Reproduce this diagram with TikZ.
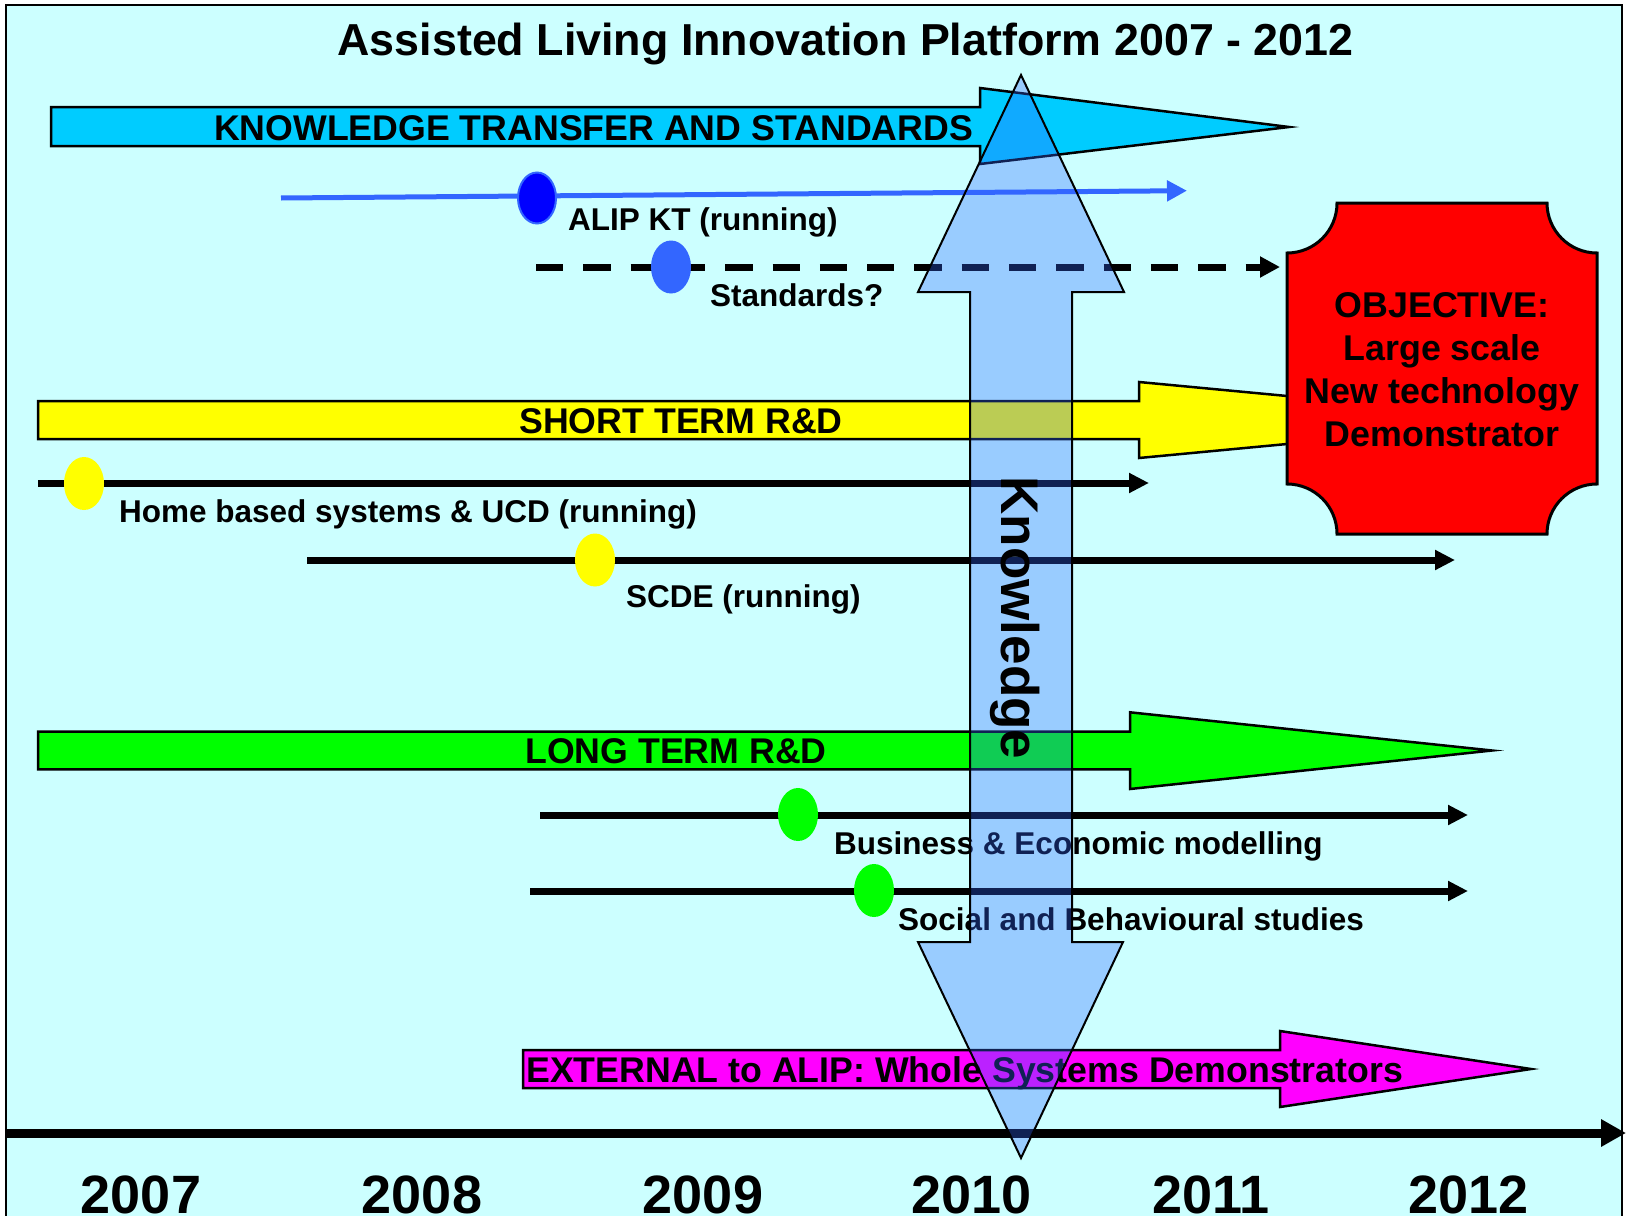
\documentclass[tikz,border=0pt]{standalone}
\usepackage{fontspec}
\setmainfont{Liberation Sans}
\usetikzlibrary{arrows.meta,shapes.geometric}
\definecolor{bgc}{HTML}{CCFFFF}
\definecolor{ktc}{HTML}{00CCFF}
\definecolor{yel}{HTML}{FFFF00}
\definecolor{grn}{HTML}{00FF00}
\definecolor{mag}{HTML}{FF00FF}
\definecolor{redc}{HTML}{FF0000}
\definecolor{blu}{HTML}{3366FF}
\definecolor{dblu}{HTML}{0000FF}
\tikzset{
  barshape/.style={draw=black, line width=2.5pt, line join=miter},
  barlabel/.style={font=\bfseries\fontsize{35.7}{40}\selectfont, inner sep=0pt},
  annot/.style={font=\bfseries\fontsize{31.5}{36}\selectfont, inner sep=0pt, anchor=base west},
  yearlabel/.style={font=\bfseries\fontsize{54}{60}\selectfont, inner sep=0pt, anchor=base},
  tline/.style={line width=7pt, -{Triangle[length=20pt,width=19pt]}},
  dot/.style={ellipse, minimum width=40pt, minimum height=53pt, inner sep=0pt},
}
\begin{document}
\begin{tikzpicture}[x=1pt,y=-1pt]
\useasboundingbox (0,0) rectangle (1629,1215);
\clip (0,0) rectangle (1629,1215);
\fill[white] (0,0) rectangle (1629,1215);
\filldraw[fill=bgc, draw=black, line width=2pt] (6,5) rectangle (1622,1240);

% title
\node[font=\bfseries\fontsize{44.8}{50}\selectfont, inner sep=0pt, anchor=base] (title) at (845.5,56) {Assisted Living Innovation Platform 2007 - 2012};

% knowledge transfer arrow
\filldraw[barshape, fill=ktc] (51,107) -- (980,107) -- (980,88) -- (1289,127) -- (980,164) -- (980,146) -- (51,146) -- cycle;
\node[barlabel, anchor=base] (kt) at (593.5,140) {KNOWLEDGE TRANSFER AND STANDARDS};

% ALIP KT
\coordinate (alips) at (281,198);
\coordinate (alipe) at (1187,190.7);
\draw[line width=5pt, blu, -{Triangle[length=20pt,width=20pt]}] (alips) -- (alipe);
\node[dot, fill=dblu, draw=blu, line width=2pt, minimum width=38pt, minimum height=51pt] (alipdot) at (537,198) {};
\node[annot] (aliplab) at (568,230.7) {ALIP KT (running)};

% Standards
\coordinate (stds) at (536,267);
\coordinate (stde) at (1280,267);
\draw[line width=7pt, dash pattern=on 27.3pt off 20pt, -{Triangle[length=20pt,width=20pt]}] (stds) -- (stde);
\node[dot, fill=blu] (stddot) at (671,267) {};
\node[annot] (stdlab) at (710,306) {Standards?};

% short term arrow
\filldraw[barshape, fill=yel] (38,401) -- (1139,401) -- (1139,382) -- (1541,420) -- (1139,458) -- (1139,439) -- (38,439) -- cycle;
\node[barlabel, anchor=base] (st) at (681,433) {SHORT TERM R\&D};

% objective box
\filldraw[fill=redc, draw=black, line width=3pt]
  (1337,203) -- (1547,203) .. controls (1547,230.6) and (1569.4,253) .. (1597,253)
  -- (1597,484) .. controls (1569.4,484) and (1547,506.4) .. (1547,534)
  -- (1337,534) .. controls (1337,506.4) and (1314.6,484) .. (1287,484)
  -- (1287,253) .. controls (1314.6,253) and (1337,230.6) .. (1337,203) -- cycle;
\node[font=\bfseries\fontsize{35.8}{43}\selectfont, inner sep=0pt, align=center] (obj) at (1442,370) {OBJECTIVE:\\Large scale\\New technology\\Demonstrator};

% home based
\coordinate (homes) at (38,483);
\coordinate (homee) at (1149,483);
\draw[tline] (homes) -- (homee);
\node[dot, fill=yel] (homedot) at (84,483.5) {};
\node[annot] (homelab) at (119,522) {Home based systems \& UCD (running)};

% SCDE
\coordinate (scdes) at (307,560);
\coordinate (scdee) at (1455,560);
\draw[tline] (scdes) -- (scdee);
\node[dot, fill=yel] (scdedot) at (595,560) {};
\node[annot] (scdelab) at (626,607) {SCDE (running)};

% long term arrow
\filldraw[barshape, fill=grn] (38,731.7) -- (1130,731.7) -- (1130,712.3) -- (1492,750.5) -- (1130,789) -- (1130,769.3) -- (38,769.3) -- cycle;
\node[barlabel, anchor=base] (lt) at (676,763) {LONG TERM R\&D};

% business
\coordinate (buss) at (540,815);
\coordinate (buse) at (1468,815);
\draw[tline] (buss) -- (buse);
\node[dot, fill=grn] (busdot) at (798,814.5) {};
\node[annot] (buslab) at (834,854) {Business \& Economic modelling};

% social
\coordinate (socs) at (530,891);
\coordinate (soce) at (1468,891);
\draw[tline] (socs) -- (soce);
\node[dot, fill=grn] (socdot) at (874,890.5) {};
\node[annot] (soclab) at (898,930) {Social and Behavioural studies};

% external arrow
\filldraw[barshape, fill=mag] (523,1050) -- (1280,1050) -- (1280,1031) -- (1531,1069) -- (1280,1107) -- (1280,1088) -- (523,1088) -- cycle;
\node[barlabel, anchor=base west] (ext) at (526,1082) {EXTERNAL to ALIP: Whole Systems Demonstrators};

% time axis
\coordinate (ax0) at (6,1133);
\coordinate (ax1) at (1626,1133);
\draw[line width=9pt, -{Triangle[length=25pt,width=26pt]}] (ax0) -- (ax1);
\node[yearlabel] (y07) at (141,1213) {2007};
\node[yearlabel] (y08) at (422,1213) {2008};
\node[yearlabel] (y09) at (703,1213) {2009};
\node[yearlabel] (y10) at (971.5,1213) {2010};
\node[yearlabel] (y11) at (1211,1213) {2011};
\node[yearlabel] (y12) at (1468.5,1213) {2012};

% knowledge double arrow
\filldraw[draw=black, line width=2pt, fill=blu, fill opacity=0.33, line join=miter]
  (1021,75) -- (1124,292) -- (1072,292) -- (1072,942) -- (1123,942) -- (1021,1158)
  -- (918,942) -- (970,942) -- (970,292) -- (918,292) -- cycle;
\node[font=\bfseries\fontsize{53}{60}\selectfont, inner sep=0pt, rotate=-90, anchor=base] (know) at (1001,618) {Knowledge};
\end{tikzpicture}
\end{document}
